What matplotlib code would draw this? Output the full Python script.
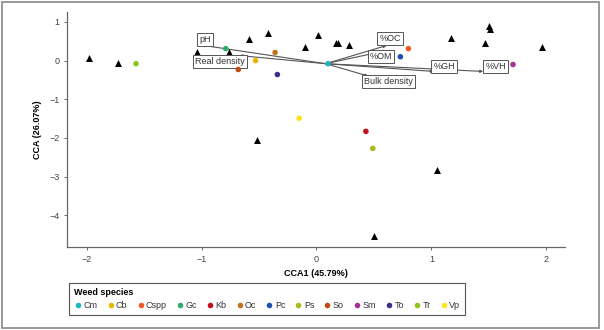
import matplotlib
matplotlib.use("Agg")
import matplotlib.pyplot as plt
from matplotlib.lines import Line2D
from matplotlib.patches import Rectangle

plt.rcParams["font.family"] = ["Liberation Sans Narrow", "Liberation Sans", "DejaVu Sans"]

# species scores
species = ["Cm", "Cb", "Cspp", "Gc", "Kb", "Oc", "Pc", "Ps", "So", "Sm", "To", "Tr", "Vp"]
species_x = [0.10, -0.53, 0.80, -0.79, 0.43, -0.36, 0.73, 0.49, -0.68, 1.71, -0.34, -1.57, -0.15]
species_y = [-0.08, 0.00, 0.31, 0.31, -1.83, 0.21, 0.10, -2.27, -0.23, -0.10, -0.36, -0.08, -1.49]
species_colors = ["#1fb5c0", "#e6b800", "#f05a22", "#2eaa6a", "#c0101a", "#c0731a", "#1f4faf",
                  "#aab81a", "#c04a10", "#a83090", "#3a2e8a", "#8dc21f", "#ffe51a"]

# site scores
site_x = [-1.98, -1.73, -1.04, -0.76, -0.59, -0.42, -0.10, 0.01, 0.17, 0.19, 0.28,
          1.17, 1.47, 1.50, 1.51, 1.96, -0.52, 1.05, 0.50]
site_y = [0.08, -0.05, 0.23, 0.21, 0.57, 0.72, 0.36, 0.67, 0.46, 0.46, 0.41,
          0.59, 0.46, 0.90, 0.82, 0.36, -2.06, -2.84, -4.54]

# environmental vectors
env_names = ["pH", "Real density", "%OC", "%OM", "%GH", "%VH", "Bulk density"]
env_tip_x = [-1.00, -0.67, 0.61, 0.61, 1.02, 1.45, 0.45]
env_tip_y = [0.40, 0.13, 0.39, 0.26, -0.28, -0.28, -0.40]
env_lab_x = [-0.97, -0.84, 0.64, 0.56, 1.11, 1.56, 0.63]
env_lab_y = [0.54, -0.03, 0.57, 0.10, -0.15, -0.15, -0.54]
origin = (0.08, -0.08)

x_ticks = [-2, -1, 0, 1, 2]
y_ticks = [1, 0, -1, -2, -3, -4]


def main() -> None:
    fig = plt.figure(figsize=(6.04, 3.30), dpi=100)
    ax = fig.add_axes([0.111, 0.2515, 0.824, 0.7125])

    for tx, ty, lx, ly, name in zip(env_tip_x, env_tip_y, env_lab_x, env_lab_y, env_names):
        ax.annotate("", xy=(tx, ty), xytext=origin,
                    arrowprops=dict(arrowstyle="-|>", mutation_scale=4, lw=0.8, color="#555555",
                                    shrinkA=0, shrinkB=0), zorder=2)
        ax.text(lx, ly, name, fontsize=6.5, color="#333333", ha="center", va="center", zorder=4,
                bbox=dict(boxstyle="square,pad=0.22", fc="white", ec="#555555", lw=0.7))

    ax.scatter(site_x, site_y, marker="^", s=25, color="black", linewidths=0, zorder=3)
    ax.scatter(species_x, species_y, s=16, c=species_colors, linewidths=0, zorder=5)

    ax.set_xlim(-2.17, 2.16)
    ax.set_ylim(-4.82, 1.26)
    ax.set_xticks(x_ticks)
    ax.set_yticks(y_ticks)
    ax.tick_params(labelsize=6.5, length=2, width=0.6, colors="#555555", labelcolor="#444444")
    for side in ["top", "right"]:
        ax.spines[side].set_visible(False)
    for side in ["left", "bottom"]:
        ax.spines[side].set_color("#666666")
        ax.spines[side].set_linewidth(0.9)
    ax.set_xlabel("CCA1 (45.79%)", fontsize=6.5, fontweight="bold", labelpad=4)
    ax.set_ylabel("CCA (26.07%)", fontsize=6.5, fontweight="bold", labelpad=5)

    handles = [Line2D([], [], marker="o", linestyle="none", markersize=4, markerfacecolor=c,
                      markeredgewidth=0) for c in species_colors]
    leg = fig.legend(handles, species, loc="upper left", bbox_to_anchor=(69 / 604, 1 - 283 / 330),
                     ncol=len(species), fontsize=6.5, title="Weed species",
                     title_fontproperties={"weight": "bold", "size": 6.5}, alignment="left",
                     handletextpad=0.1, columnspacing=0.95, handlelength=1.0, borderpad=0.5,
                     borderaxespad=0, fancybox=False, edgecolor="#555555", framealpha=1)
    leg.get_frame().set_linewidth(0.8)
    for t in leg.get_texts():
        t.set_color("#333333")

    fig.patches.append(Rectangle((0.004, 0.006), 0.988, 0.988, transform=fig.transFigure,
                                 fill=False, edgecolor="#888888", lw=1.2))
    fig.savefig("out.png", dpi=100)
    plt.close(fig)


if __name__ == "__main__":
    main()
